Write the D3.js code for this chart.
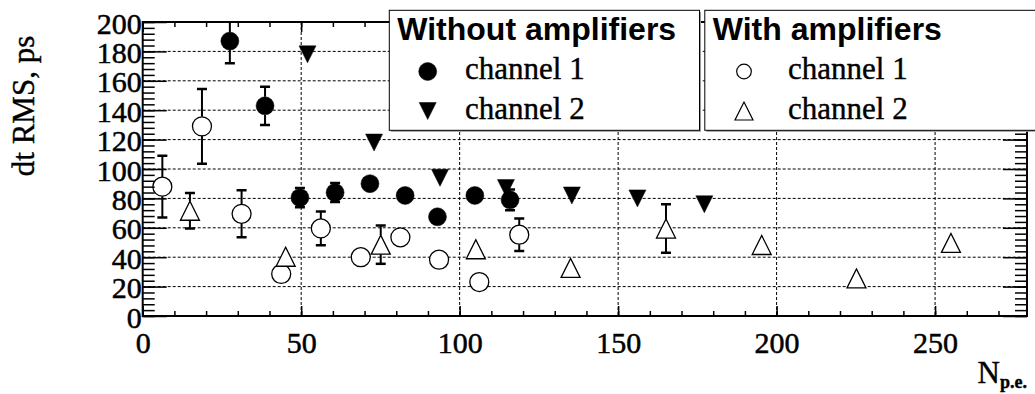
<!DOCTYPE html>
<html>
<head>
<meta charset="utf-8">
<script src="https://cdn.jsdelivr.net/npm/d3@7"></script>
<style>
  html, body { margin: 0; padding: 0; background: #fff; }
  svg { display: block; }
</style>
</head>
<body>
<svg id="chart" width="1035" height="394"></svg>
<script>
// dt RMS versus number of photoelectrons, with and without amplifiers

// Without amplifiers, channel 1 (full circles)
const noAmpCh1X   = [27.5, 38.6, 49.6, 60.7, 71.7, 82.8, 93.0, 104.8, 115.9];
const noAmpCh1Y   = [187, 143, 80.5, 84, 90, 82, 67.5, 82, 79];
const noAmpCh1Err = [15, 13, 6.5, 6.5, 3, 3, 3, 6, 7];

// Without amplifiers, channel 2 (full triangles down)
const noAmpCh2X   = [52.0, 73.0, 93.8, 114.6, 135.4, 156.1, 177.2];
const noAmpCh2Y   = [178, 118, 94, 87, 82, 80, 76];
const noAmpCh2Err = [3, 3, 3, 3, 3, 3, 3];

// With amplifiers, channel 1 (open circles)
const ampCh1X   = [6.2, 18.7, 31.2, 43.7, 56.2, 68.8, 81.3, 93.5, 106.2, 118.8];
const ampCh1Y   = [88, 129, 69.5, 28.6, 59.6, 40, 53.5, 38.3, 23.1, 55.3];
const ampCh1Err = [21, 25.5, 16, 3, 11.5, 3, 3, 3, 3, 11];

// With amplifiers, channel 2 (open triangles up)
const ampCh2X   = [14.9, 45.1, 75.1, 105.1, 135.0, 165.1, 195.3, 225.2, 255.0];
const ampCh2Y   = [71.6, 40.3, 48.5, 45.4, 32.7, 59.5, 48.3, 25.6, 49.7];
const ampCh2Err = [12, 3, 13, 3, 3, 16.5, 3, 3, 3];

const xTickValues = [0, 50, 100, 150, 200, 250];
const yTickValues = [0, 20, 40, 60, 80, 100, 120, 140, 160, 180, 200];
const xMinorValues = d3.range(0, 280, 10);
const yMinorValues = d3.range(0, 201, 4);

const legendGroups = [
  { title: "Without amplifiers", entries: ["channel 1", "channel 2"] },
  { title: "With amplifiers",    entries: ["channel 1", "channel 2"] }
];
const yTitle = "dt RMS, ps";
const xTitleMain = "N";
const xTitleSub = "p.e.";

const SERIF = '"Liberation Serif", "Times New Roman", serif';
const SANS = '"Liberation Sans", Arial, sans-serif';

// slightly heavier text strokes, like the original print
function heavy(sel, w) {
  return sel.attr("stroke", "#000").attr("stroke-width", w).attr("paint-order", "stroke");
}

// ---- layout ----
const frame = { left: 142.7, right: 1027, top: 22, bottom: 316 };
const svg = d3.select("#chart");

const x = d3.scaleLinear().domain([0, 279]).range([frame.left, frame.right]);
const y = d3.scaleLinear().domain([0, 200]).range([frame.bottom, frame.top]);

svg.append("defs").append("clipPath").attr("id", "frameClip")
  .append("rect")
  .attr("x", frame.left).attr("y", frame.top)
  .attr("width", frame.right - frame.left).attr("height", frame.bottom - frame.top);

// ---- grid ----
const grid = svg.append("g").attr("stroke", "#000").attr("stroke-width", 1)
  .attr("stroke-dasharray", "3,2").attr("fill", "none");
grid.selectAll("line.gx").data(xTickValues.filter(v => v > 0)).join("line")
  .attr("x1", d => x(d)).attr("x2", d => x(d))
  .attr("y1", frame.top).attr("y2", frame.bottom);
grid.selectAll("line.gy").data(yTickValues.filter(v => v > 0 && v < 200)).join("line")
  .attr("x1", frame.left).attr("x2", frame.right)
  .attr("y1", d => y(d)).attr("y2", d => y(d));

// ---- marker shapes ----
function circlePath(cx, cy, r) {
  const p = d3.path();
  p.moveTo(cx + r, cy);
  p.arc(cx, cy, r, 0, 2 * Math.PI);
  p.closePath();
  return p.toString();
}
function triUpPath(cx, cy, r) {
  const p = d3.path();
  p.moveTo(cx - r, cy + r); p.lineTo(cx + r, cy + r); p.lineTo(cx, cy - r); p.closePath();
  return p.toString();
}
function triDownPath(cx, cy, r) {
  const p = d3.path();
  p.moveTo(cx - r, cy - r); p.lineTo(cx + r, cy - r); p.lineTo(cx, cy + r); p.closePath();
  return p.toString();
}

const series = [
  { xs: noAmpCh1X, ys: noAmpCh1Y, es: noAmpCh1Err, shape: circlePath,  r: 9,   filled: true },
  { xs: noAmpCh2X, ys: noAmpCh2Y, es: noAmpCh2Err, shape: triDownPath, r: 8.5, filled: true },
  { xs: ampCh1X,   ys: ampCh1Y,   es: ampCh1Err,   shape: circlePath,  r: 9.5, filled: false },
  { xs: ampCh2X,   ys: ampCh2Y,   es: ampCh2Err,   shape: triUpPath,   r: 9.5, filled: false }
];

// ---- error bars (skipped where hidden by the marker) ----
const errG = svg.append("g").attr("clip-path", "url(#frameClip)")
  .attr("stroke", "#000").attr("fill", "none");
const capHalf = 5;
series.forEach(s => {
  s.xs.forEach((xv, i) => {
    const px = x(xv), py = y(s.ys[i]);
    const up = y(s.ys[i] + s.es[i]), dn = y(s.ys[i] - s.es[i]);
    if (py - up > s.r) {
      errG.append("line").attr("stroke-width", 2)
        .attr("x1", px).attr("x2", px).attr("y1", py - s.r).attr("y2", up);
      errG.append("line").attr("stroke-width", 2.5)
        .attr("x1", px - capHalf).attr("x2", px + capHalf).attr("y1", up).attr("y2", up);
    }
    if (dn - py > s.r) {
      errG.append("line").attr("stroke-width", 2)
        .attr("x1", px).attr("x2", px).attr("y1", py + s.r).attr("y2", dn);
      errG.append("line").attr("stroke-width", 2.5)
        .attr("x1", px - capHalf).attr("x2", px + capHalf).attr("y1", dn).attr("y2", dn);
    }
  });
});

// ---- markers ----
const markG = svg.append("g").attr("clip-path", "url(#frameClip)");
series.forEach(s => {
  markG.selectAll(null).data(s.xs.map((xv, i) => [xv, s.ys[i]])).join("path")
    .attr("d", d => s.shape(x(d[0]), y(d[1]), s.r))
    .attr("fill", s.filled ? "#000" : "#fff")
    .attr("stroke", "#000")
    .attr("stroke-width", s.filled ? 0.5 : 1.3);
});

// ---- axes (ticks pointing into the frame) ----
function styleAxis(g) {
  g.attr("font-family", SERIF).attr("font-size", 30);
  g.select(".domain").remove();
  g.selectAll(".tick line").attr("stroke", "#000").attr("stroke-width", 1.5);
  g.selectAll("text").style("font-family", SERIF).style("font-size", "30px").attr("fill", "#000")
    .call(heavy, 0.5);
}

// bottom
svg.append("g").attr("transform", `translate(0,${frame.bottom})`)
  .call(d3.axisBottom(x).tickValues(xMinorValues).tickSize(-5).tickFormat(""))
  .call(styleAxis);
svg.append("g").attr("transform", `translate(0,${frame.bottom})`)
  .call(d3.axisBottom(x).tickValues(xTickValues).tickSize(-10).tickPadding(0).tickFormat(d3.format("d")))
  .call(styleAxis)
  .call(g => g.selectAll("text").attr("y", 36.5).attr("dy", null));
// top
svg.append("g").attr("transform", `translate(0,${frame.top})`)
  .call(d3.axisTop(x).tickValues(xMinorValues).tickSize(-5).tickFormat(""))
  .call(styleAxis);
svg.append("g").attr("transform", `translate(0,${frame.top})`)
  .call(d3.axisTop(x).tickValues(xTickValues).tickSize(-10).tickFormat(""))
  .call(styleAxis);
// left
svg.append("g").attr("transform", `translate(${frame.left},0)`)
  .call(d3.axisLeft(y).tickValues(yMinorValues).tickSize(-12).tickFormat(""))
  .call(styleAxis);
svg.append("g").attr("transform", `translate(${frame.left},0)`)
  .call(d3.axisLeft(y).tickValues(yTickValues).tickSize(-24).tickPadding(1).tickFormat(d3.format("d")))
  .call(styleAxis)
  .call(g => g.selectAll("text").attr("x", -1).attr("dy", 11));
// right
svg.append("g").attr("transform", `translate(${frame.right},0)`)
  .call(d3.axisRight(y).tickValues(yMinorValues).tickSize(-12).tickFormat(""))
  .call(styleAxis);
svg.append("g").attr("transform", `translate(${frame.right},0)`)
  .call(d3.axisRight(y).tickValues(yTickValues).tickSize(-24).tickFormat(""))
  .call(styleAxis);

// frame
svg.append("rect")
  .attr("x", frame.left).attr("y", frame.top)
  .attr("width", frame.right - frame.left).attr("height", frame.bottom - frame.top)
  .attr("fill", "none").attr("stroke", "#000").attr("stroke-width", 2);

// ---- axis titles ----
svg.append("text")
  .style("font-family", SERIF)
  .attr("transform", "translate(34,106) rotate(-90)")
  .attr("text-anchor", "middle").attr("font-size", 31).attr("fill", "#000")
  .call(heavy, 0.4)
  .text(yTitle);

const xt = svg.append("text")
  .style("font-family", SERIF)
  .attr("x", frame.right).attr("y", 383).attr("text-anchor", "end")
  .attr("font-size", 31).attr("fill", "#000")
  .call(heavy, 0.4);
xt.append("tspan").text(xTitleMain);
xt.append("tspan").attr("font-size", 18).attr("font-weight", "bold").attr("dy", 5).text(xTitleSub);

// ---- legends ----
const legendBoxes = [
  { x0: 389.3, x1: 699.5, markX: 427.7, textX: 465,
    marks: [ (cx, cy) => circlePath(cx, cy, 9), (cx, cy) => triDownPath(cx, cy, 8.5) ],
    filled: true },
  { x0: 704.8, x1: 1045, markX: 744, textX: 788,
    marks: [ (cx, cy) => circlePath(cx, cy, 7.3), (cx, cy) => triUpPath(cx, cy, 9) ],
    filled: false }
];
const legTop = 10.3, legBottom = 130.3;
const entryY = [71.5, 111];
const entryBase = [79, 119];

legendBoxes.forEach((lb, k) => {
  const g = svg.append("g");
  g.append("rect")
    .attr("x", lb.x0 + 1.5).attr("y", legTop + 1.5)
    .attr("width", lb.x1 - lb.x0).attr("height", legBottom - legTop)
    .attr("fill", "#999");
  g.append("rect")
    .attr("x", lb.x0).attr("y", legTop)
    .attr("width", lb.x1 - lb.x0).attr("height", legBottom - legTop)
    .attr("fill", "#fff").attr("stroke", "#000").attr("stroke-width", 1);
  g.append("text")
    .style("font-family", SANS)
    .attr("x", lb.x0 + 8).attr("y", 40)
    .attr("font-size", 32).attr("font-weight", "bold").attr("fill", "#000")
    .text(legendGroups[k].title);
  legendGroups[k].entries.forEach((label, j) => {
    g.append("path")
      .attr("d", lb.marks[j](lb.markX, entryY[j]))
      .attr("fill", lb.filled ? "#000" : "#fff")
      .attr("stroke", "#000").attr("stroke-width", lb.filled ? 0.5 : 1.2);
    g.append("text")
      .style("font-family", SERIF)
      .attr("x", lb.textX).attr("y", entryBase[j])
      .attr("font-size", 31).attr("fill", "#000")
      .call(heavy, 0.4)
      .text(label);
  });
});
</script>
</body>
</html>
